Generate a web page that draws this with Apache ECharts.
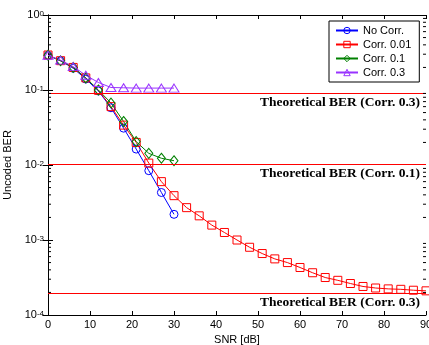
<!DOCTYPE html>
<html>
<head>
<meta charset="utf-8">
<script src="https://cdn.jsdelivr.net/npm/echarts@6/dist/echarts.min.js"></script>
<style>
  html, body { margin: 0; padding: 0; background: #fff; }
  #chart { width: 429px; height: 345px; }
</style>
</head>
<body>
<div id="chart"></div>
<script>
// SNR sample points (dB)
const snrShort = [0, 3, 6, 9, 12, 15, 18, 21, 24, 27, 30]
const snrLong = [0, 3, 6, 9, 12, 15, 18, 21, 24, 27, 30, 33, 36, 39, 42, 45,
  48, 51, 54, 57, 60, 63, 66, 69, 72, 75, 78, 81, 84, 87, 90]

const berNoCorr = [0.29, 0.245, 0.195, 0.14, 0.097, 0.058, 0.031, 0.0163, 0.0084, 0.0043, 0.0022]
const berCorr001 = [0.293, 0.246, 0.2, 0.145, 0.099, 0.06, 0.034, 0.02, 0.0106, 0.006, 0.0039,
  0.0027, 0.0021, 0.00158, 0.00126, 0.001, 0.0008, 0.00066, 0.00056, 0.0005, 0.00043,
  0.000366, 0.000316, 0.00029, 0.000263, 0.00024, 0.000229, 0.000223, 0.00022, 0.000214, 0.00021]
const berCorr01 = [0.29, 0.245, 0.2, 0.145, 0.1, 0.067, 0.038, 0.0205, 0.0143, 0.0123, 0.0114]
const berCorr03 = [0.29, 0.25, 0.205, 0.157, 0.126, 0.108, 0.107, 0.106, 0.106, 0.106, 0.106]

// theoretical levels
const theoryValues = [0.091, 0.0103, 0.000195]
const theoryLabels = ['Theoretical BER (Corr. 0.3)', 'Theoretical BER (Corr. 0.1)', 'Theoretical BER (Corr. 0.3)']

const seriesNames = ['No Corr.', 'Corr. 0.01', 'Corr. 0.1', 'Corr. 0.3']
const snrRange = [0, 90]

// minor tick values on the log axis
const minorTicks = []
for (let e = -4; e < 0; e++) {
  for (let m = 2; m <= 9; m++) minorTicks.push(m * Math.pow(10, e))
}

const chart = echarts.init(document.getElementById('chart'), null, { renderer: 'canvas' })

const pair = (xs, ys) => ys.map((y, i) => [xs[i], y])

const markerSeries = (name, data, color, symbol, size) => ({
  name,
  type: 'line',
  data,
  symbol,
  symbolSize: size,
  lineStyle: { color, width: 1 },
  itemStyle: { color: 'rgba(0,0,0,0)', borderColor: color, borderWidth: 1 },
  emphasis: { disabled: true },
})

const red = markerSeries(seriesNames[1], pair(snrLong, berCorr001), '#ff0000', 'rect', 8)
red.markLine = {
  silent: true,
  symbol: 'none',
  lineStyle: { color: '#ff0000', width: 1, type: 'solid' },
  label: {
    position: 'insideEndBottom',
    color: '#000',
    fontFamily: 'Liberation Serif',
    fontWeight: 'bold',
    fontSize: 13.5,
    distance: [6, 2],
  },
  data: theoryValues.map((v, i) => [
    { coord: [snrRange[0], v], label: { formatter: theoryLabels[i] } },
    { coord: [snrRange[1], v] },
  ]),
}

chart.setOption({
  animation: false,
  backgroundColor: '#fff',
  textStyle: { fontFamily: 'Liberation Sans' },
  grid: { left: 48, right: 3, top: 15, bottom: 30, containLabel: false, outerBoundsMode: 'none' },
  legend: {
    data: seriesNames,
    orient: 'vertical',
    left: 329,
    top: 21,
    width: 90,
    itemWidth: 22,
    itemHeight: 8,
    itemGap: 3,
    padding: [4, 8, 4, 6],
    borderColor: '#000',
    borderWidth: 1,
    backgroundColor: '#fff',
    itemStyle: { color: 'rgba(0,0,0,0)', borderColor: 'inherit', borderWidth: 1 },
    textStyle: { fontSize: 11, color: '#000', fontFamily: 'Liberation Sans' },
  },
  xAxis: [
    {
      type: 'value',
      min: snrRange[0],
      max: snrRange[1],
      interval: 10,
      name: 'SNR [dB]',
      nameLocation: 'middle',
      nameGap: 19,
      nameTextStyle: { fontSize: 11, color: '#000' },
      axisLine: { lineStyle: { color: '#000' } },
      axisTick: { inside: true, length: 4, lineStyle: { color: '#000' } },
      axisLabel: { fontSize: 11, color: '#000', margin: 4 },
      splitLine: { show: false },
    },
    {
      type: 'value',
      position: 'top',
      min: snrRange[0],
      max: snrRange[1],
      interval: 10,
      axisLine: { lineStyle: { color: '#000' } },
      axisTick: { inside: true, length: 4, lineStyle: { color: '#000' } },
      axisLabel: { show: false },
      splitLine: { show: false },
    },
  ],
  yAxis: [
    {
      type: 'log',
      logBase: 10,
      min: 1e-4,
      max: 1,
      name: 'Uncoded BER',
      nameLocation: 'middle',
      nameGap: 34,
      nameTextStyle: { fontSize: 11, color: '#000' },
      axisLine: { lineStyle: { color: '#000' } },
      axisTick: { inside: true, length: 5, lineStyle: { color: '#000' } },
      axisLabel: {
        margin: 4,
        formatter: (v) => '{b|10}{s|' + Math.round(Math.log10(v)) + '}',
        rich: {
          b: { fontSize: 11, color: '#000', verticalAlign: 'bottom' },
          s: { fontSize: 8, color: '#000', verticalAlign: 'top' },
        },
      },
      splitLine: { show: false },
    },
    {
      type: 'log',
      logBase: 10,
      min: 1e-4,
      max: 1,
      position: 'right',
      axisLine: { lineStyle: { color: '#000' } },
      axisTick: { inside: true, length: 5, lineStyle: { color: '#000' } },
      axisLabel: { show: false },
      splitLine: { show: false },
    },
  ],
  series: [
    markerSeries(seriesNames[0], pair(snrShort, berNoCorr), '#0000ff', 'circle', 8),
    red,
    markerSeries(seriesNames[2], pair(snrShort, berCorr01), '#008000', 'diamond', [8, 10]),
    markerSeries(seriesNames[3], pair(snrShort, berCorr03), '#9933ff', 'triangle', [10, 8]),
    {
      name: 'minor',
      type: 'custom',
      silent: true,
      z: 5,
      data: minorTicks.map((v) => [snrRange[0], v]),
      renderItem: (params, api) => {
        const l = api.coord([snrRange[0], api.value(1)])
        const r = api.coord([snrRange[1], api.value(1)])
        const st = { stroke: '#000', lineWidth: 1 }
        return {
          type: 'group',
          children: [
            { type: 'line', shape: { x1: l[0], y1: l[1], x2: l[0] + 3, y2: l[1] }, style: st },
            { type: 'line', shape: { x1: r[0] - 3, y1: r[1], x2: r[0], y2: r[1] }, style: st },
          ],
        }
      },
    },
  ],
})
</script>
</body>
</html>
